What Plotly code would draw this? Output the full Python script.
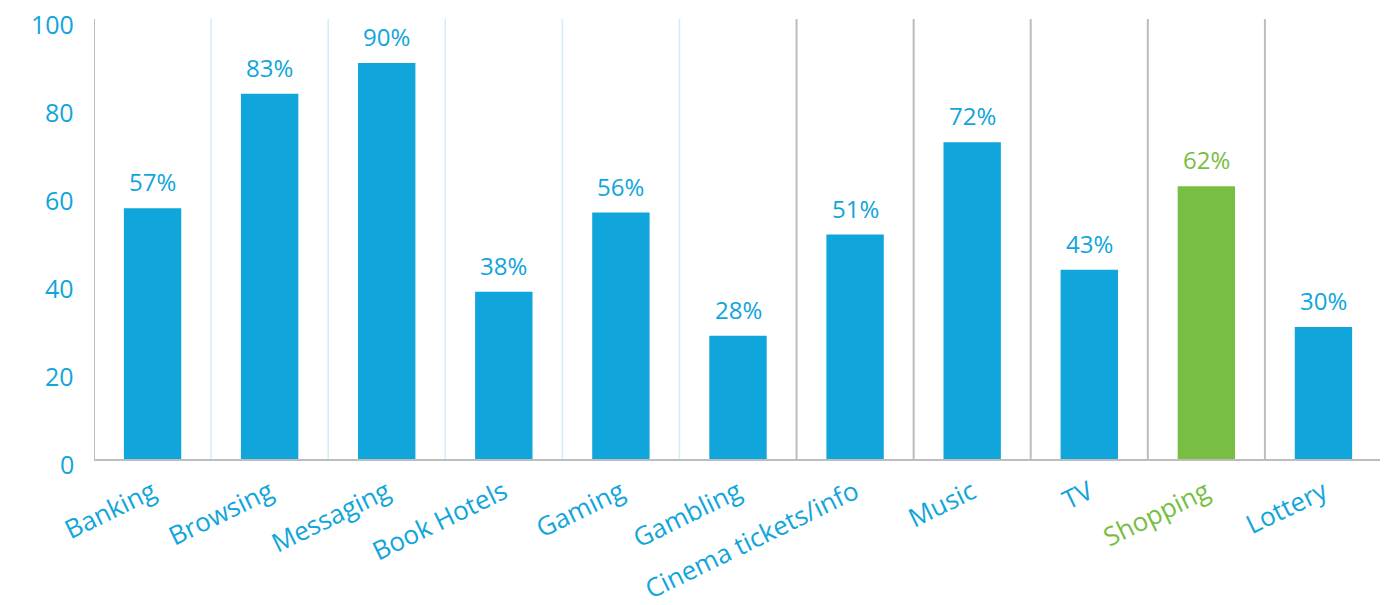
import plotly.graph_objects as go

categories = ["Banking", "Browsing", "Messaging", "Book Hotels", "Gaming", "Gambling",
              "Cinema tickets/info", "Music", "TV", "Shopping", "Lottery"]
values = [57, 83, 90, 38, 56, 28, 51, 72, 43, 62, 30]
highlight = "Shopping"
y_ticks = [0, 20, 40, 60, 80, 100]

BLUE = "#10A5DB"
GREEN = "#77BE43"
LIGHT = "#D3ECF7"
GRAY = "#BDBDBD"
FONT = "Open Sans"

colors = [GREEN if c == highlight else BLUE for c in categories]
labels = [f"{v}%" for v in values]
ticktext = [f'<span style="color:{GREEN}">{c}</span>' if c == highlight else c for c in categories]
n = len(categories)

fig = go.Figure(go.Bar(
    x=list(range(n)), y=values,
    marker=dict(color=colors, line=dict(width=0)),
    width=0.49,
))

for i in range(n):
    fig.add_annotation(x=i, y=values[i], text=labels[i], showarrow=False,
                       xref="x", yref="y", yanchor="bottom", yshift=8,
                       font=dict(size=24, color=colors[i], family=FONT))

# y tick labels (slightly below their grid value, as in the reference)
for t in y_ticks:
    fig.add_annotation(x=0, xref="paper", xanchor="right", xshift=-19,
                       y=t, yref="y", yanchor="middle", yshift=-5,
                       text=str(t), showarrow=False, borderpad=0,
                       font=dict(size=25, color=BLUE, family=FONT))

# vertical separators between categories
for i in range(n + 1):
    col = LIGHT if (1 <= i <= 5 or i == n) else GRAY
    w = 1.5 if col == LIGHT else 2
    fig.add_shape(type="line", xref="x", yref="paper", x0=i - 0.5, x1=i - 0.5, y0=0, y1=1,
                  line=dict(color=col, width=w), layer="below")

fig.update_layout(
    width=1388, height=605,
    margin=dict(l=86, r=14, t=11, b=154),
    plot_bgcolor="white", paper_bgcolor="white",
    showlegend=False,
    font=dict(family=FONT, color=BLUE),
    xaxis=dict(
        tickmode="array", tickvals=list(range(n)), ticktext=ticktext,
        range=[-0.5, n - 0.5], tickangle=-26, showgrid=False, zeroline=False,
        showline=True, linecolor=GRAY, linewidth=2, ticks="", automargin=False,
        ticklabelstandoff=6, ticklabeloverflow="allow",
        tickfont=dict(size=26, color=BLUE, family=FONT),
    ),
    yaxis=dict(
        range=[0, 100], tickvals=y_ticks, showgrid=False, zeroline=False,
        showline=False, ticks="", showticklabels=False, automargin=False,
    ),
)

fig.write_html("out.html")
